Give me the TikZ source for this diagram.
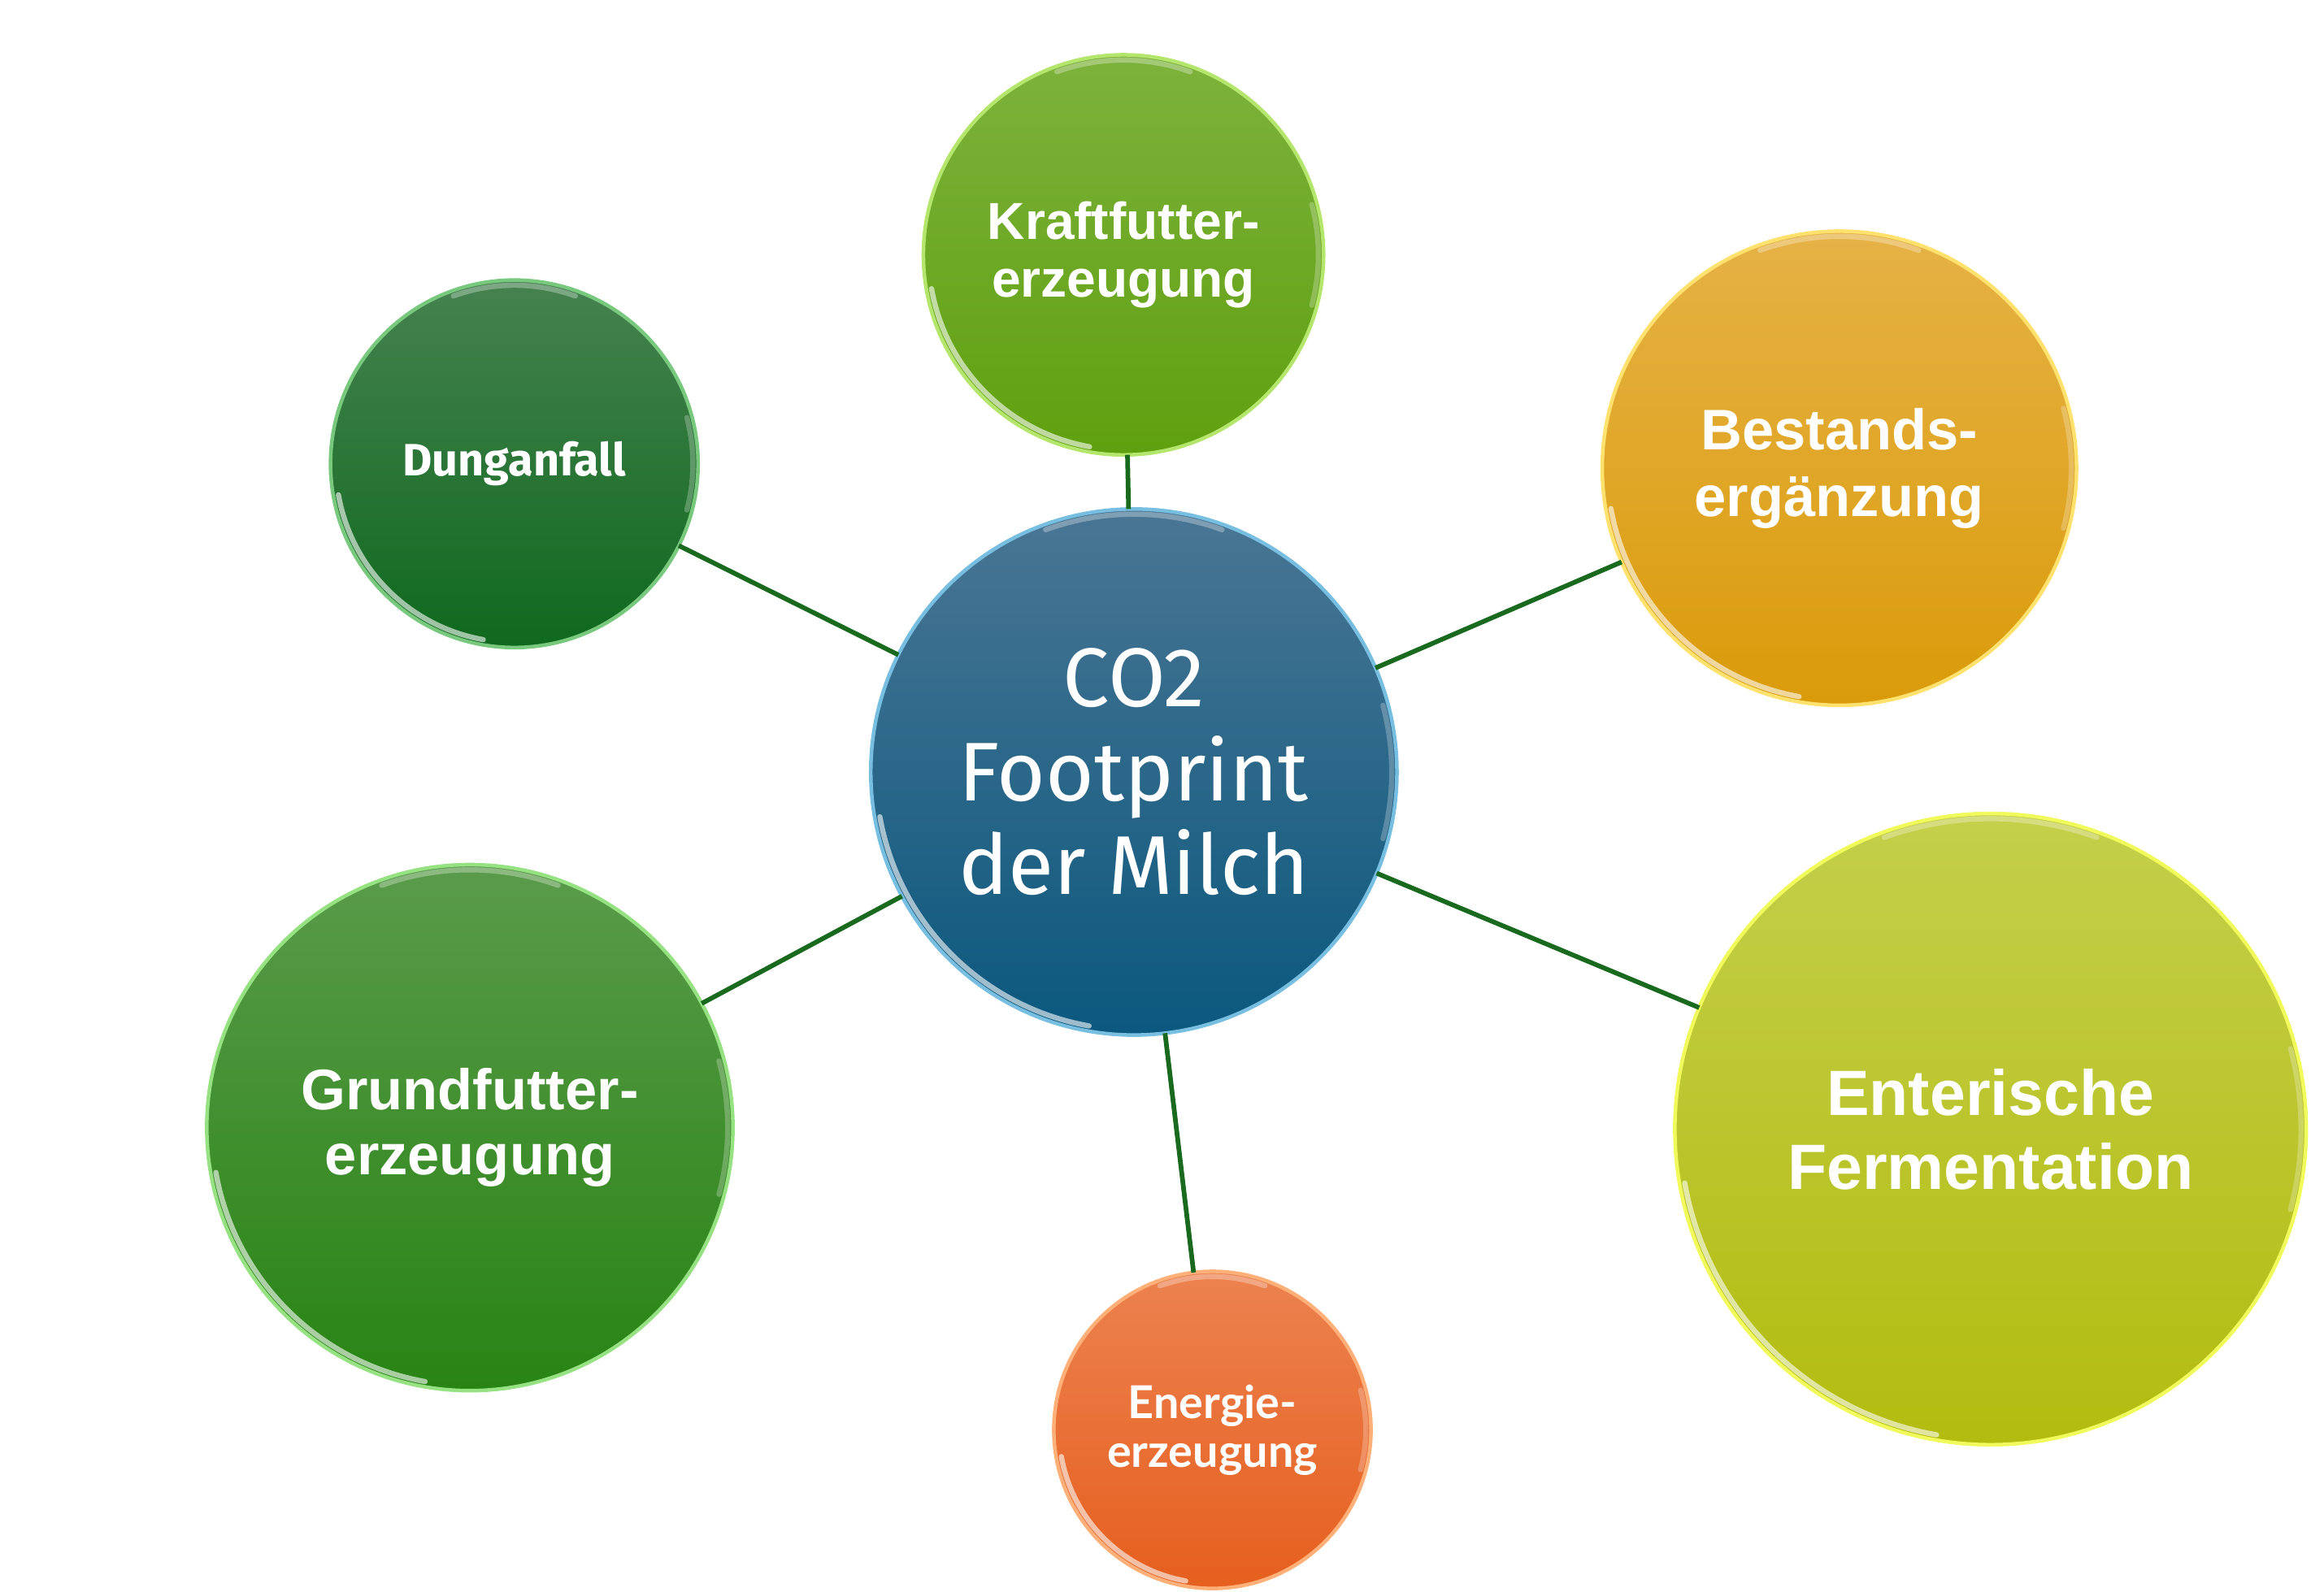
\documentclass[tikz,border=0pt]{standalone}
\usepackage{fontspec}
\setmainfont{Fira Sans}
\newfontfamily\libsans{Liberation Sans}
\newfontfamily\latosans{Lato}

\definecolor{linkgreen}{RGB}{25,105,30}
\definecolor{milchtop}{RGB}{74,118,148}
\definecolor{milchbot}{RGB}{11,88,126}
\definecolor{milchrim}{RGB}{120,190,225}
\definecolor{krafttop}{RGB}{125,178,60}
\definecolor{kraftbot}{RGB}{95,160,15}
\definecolor{kraftrim}{RGB}{180,230,110}
\definecolor{dungtop}{RGB}{70,130,80}
\definecolor{dungbot}{RGB}{15,105,30}
\definecolor{dungrim}{RGB}{120,200,125}
\definecolor{bestandtop}{RGB}{230,178,70}
\definecolor{bestandbot}{RGB}{218,155,10}
\definecolor{bestandrim}{RGB}{255,225,110}
\definecolor{entertop}{RGB}{196,207,75}
\definecolor{enterbot}{RGB}{178,188,15}
\definecolor{enterrim}{RGB}{240,250,90}
\definecolor{grundtop}{RGB}{90,155,75}
\definecolor{grundbot}{RGB}{40,132,20}
\definecolor{grundrim}{RGB}{150,225,130}
\definecolor{energietop}{RGB}{236,130,80}
\definecolor{energiebot}{RGB}{230,95,30}
\definecolor{energierim}{RGB}{255,175,120}

\tikzset{
  ball/.style={circle, inner sep=0pt, outer sep=0pt, text=white, align=center, line width=0.7pt},
  link/.style={draw=linkgreen, line width=0.9pt},
  glint/.style={white, line width=1pt, opacity=0.6, line cap=round},
}

\begin{document}
\begin{tikzpicture}
\useasboundingbox (0,0) rectangle (15.68,-10.74);

% Balls
\node[ball, minimum size=3.55cm, top color=milchtop, bottom color=milchbot, draw=milchrim,
      font=\fontsize{16}{18}\selectfont] (milch) at (7.65,-5.21) {CO2\\Footprint\\der Milch};
\node[ball, minimum size=2.70cm, top color=krafttop, bottom color=kraftbot, draw=kraftrim,
      font=\libsans\bfseries\fontsize{10}{11}\selectfont] (kraft) at (7.58,-1.72) {Kraftfutter-\\erzeugung};
\node[ball, minimum size=2.48cm, top color=dungtop, bottom color=dungbot, draw=dungrim,
      font=\bfseries\fontsize{8.7}{10.5}\selectfont] (dung) at (3.47,-3.13) {Dunganfall};
\node[ball, minimum size=3.20cm, top color=bestandtop, bottom color=bestandbot, draw=bestandrim,
      font=\libsans\bfseries\fontsize{11}{12.8}\selectfont] (bestand) at (12.41,-3.16) {Bestands-\\ergänzung};
\node[ball, minimum size=4.26cm, top color=entertop, bottom color=enterbot, draw=enterrim,
      font=\libsans\bfseries\fontsize{12.3}{14.2}\selectfont] (enter) at (13.43,-7.62) {Enterische\\Fermentation};
\node[ball, minimum size=3.55cm, top color=grundtop, bottom color=grundbot, draw=grundrim,
      font=\libsans\bfseries\fontsize{11}{12.5}\selectfont] (grund) at (3.17,-7.61) {Grundfutter-\\erzeugung};
\node[ball, minimum size=2.14cm, top color=energietop, bottom color=energiebot, draw=energierim,
      font=\latosans\bfseries\fontsize{8.7}{9.4}\selectfont] (energie) at (8.18,-9.65) {Energie-\\erzeugung};

% Connectors
\draw[link] (milch) -- (kraft);
\draw[link] (milch) -- (dung);
\draw[link] (milch) -- (bestand);
\draw[link] (milch) -- (enter);
\draw[link] (milch) -- (grund);
\draw[link] (milch) -- (energie);

% Glossy rims
\foreach \n/\r [evaluate=\r as \g using \r-0.035] in {milch/1.775, kraft/1.35, dung/1.24, bestand/1.60, enter/2.13, grund/1.775, energie/1.07} {
  \draw[glint] (\n.center) ++(190:\g) arc[start angle=190, end angle=260, radius=\g];
  \draw[glint, opacity=0.3] (\n.center) ++(70:\g) arc[start angle=70, end angle=110, radius=\g];
  \draw[glint, opacity=0.25] (\n.center) ++(-15:\g) arc[start angle=-15, end angle=15, radius=\g];
}
\end{tikzpicture}
\end{document}
